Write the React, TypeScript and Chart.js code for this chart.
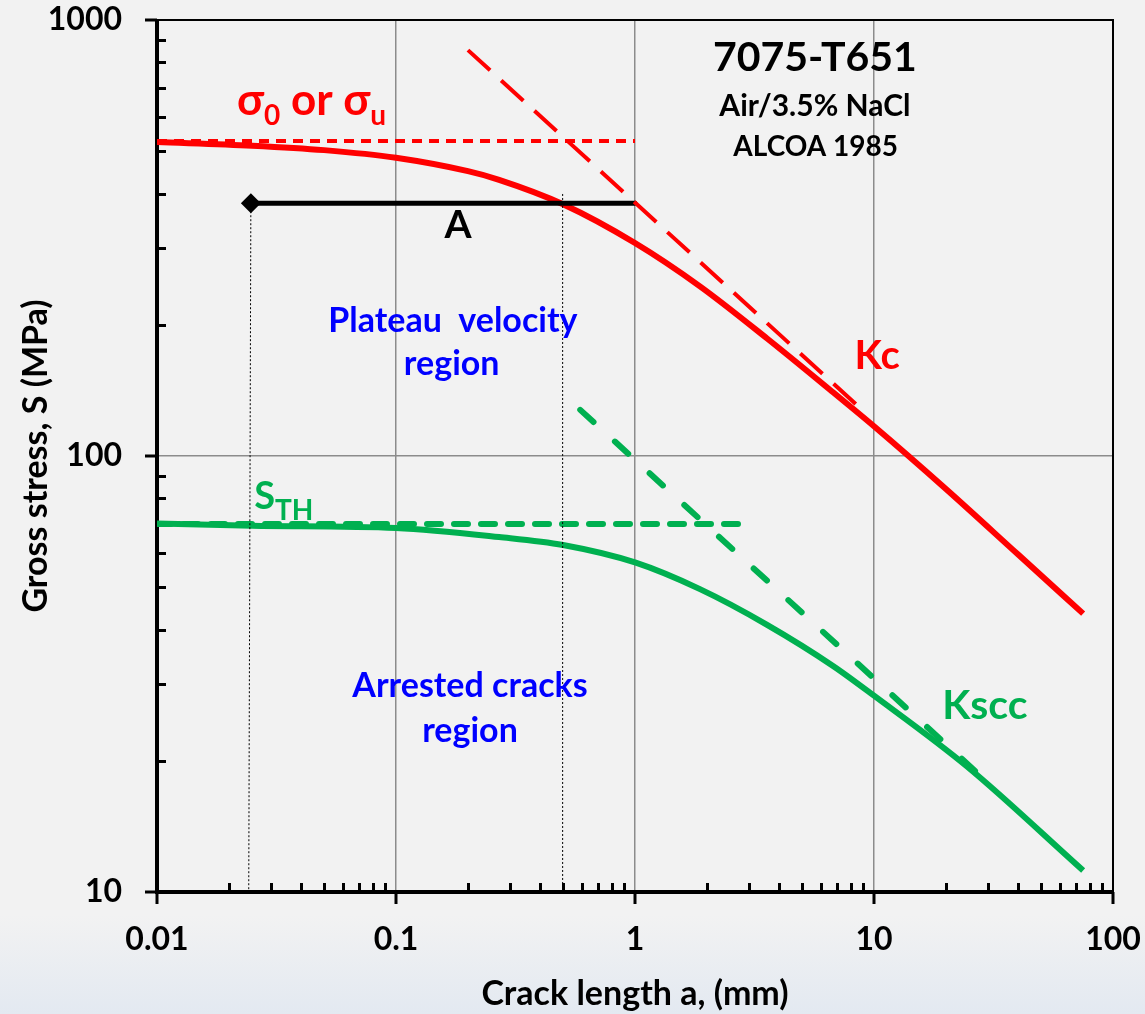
import React, { useEffect, useRef } from 'react';
import { Chart, registerables } from 'chart.js';

Chart.register(...registerables);

const FONT = "Lato, 'Open Sans', 'DejaVu Sans', sans-serif";
const RED = '#ff0000';
const GREEN = '#00b050';
const BLUE = '#0000ff';
const GRID = '#8c8c8c';

// Axis ticks
const X_MAJOR = [0.01, 0.1, 1, 10, 100];
const X_LABELS = ['0.01', '0.1', '1', '10', '100'];
const Y_MAJOR = [10, 100, 1000];
const Y_LABELS = ['10', '100', '1000'];
const X_GRID = [0.1, 1, 10];
const Y_GRID = [100];

// Kc curve (air), crack length a (mm) vs gross stress S (MPa)
const KC_CURVE_A = [0.01, 0.025, 0.05, 0.1, 0.2, 0.27, 0.5, 1, 1.87, 3.57, 6.74, 10, 20, 40, 75];
const KC_CURVE_S = [525, 515, 503, 483, 450, 430, 378, 308, 245, 186, 140, 117, 84, 59.5, 43.5];

// Kc asymptote (dashed)
const KC_LINE_A = [0.2, 9];
const KC_LINE_S = [853, 127];

// sigma_0 / sigma_u level (dotted)
const SIGMA_A = [0.01, 1];
const SIGMA_S = [528, 528];

// Line "A"
const A_LINE_A = [0.0247, 1];
const A_LINE_S = [380, 380];

// Vertical dotted guides
const VLINE1_A = [0.0247, 0.0242];
const VLINE1_S = [380, 10];
const VLINE2_A = [0.498, 0.498];
const VLINE2_S = [399, 10];

// Kscc curve (3.5% NaCl)
const KSCC_CURVE_A = [0.01, 0.025, 0.1, 0.27, 0.5, 1, 1.87, 3.57, 6.74, 10, 24.5, 75];
const KSCC_CURVE_S = [70, 69.2, 68.4, 65.2, 62.5, 57, 49.5, 41, 33, 28.2, 19.4, 11.2];

// Kscc asymptote (dashed)
const KSCC_LINE_A = [0.59, 27.8];
const KSCC_LINE_S = [127.6, 18.5];

// S_TH level (dashed)
const STH_A = [0.01, 3];
const STH_S = [69.8, 69.8];

// Text annotations (data coordinates: a at text centre, S at baseline)
const LABEL_TEXT = ['7075-T651', 'Air/3.5% NaCl', 'ALCOA 1985', 'A', 'Plateau  velocity', 'region', 'Kc', 'Arrested cracks', 'region', 'Kscc'];
const LABEL_A = [5.66, 5.66, 5.7, 0.1817, 0.173, 0.171, 10.3, 0.204, 0.204, 29.1];
const LABEL_S = [764, 602, 488, 316, 192.5, 153.4, 158, 28.0, 22.1, 24.9];
const LABEL_COLOR = ['#000', '#000', '#000', '#000', BLUE, BLUE, RED, BLUE, BLUE, GREEN];
const LABEL_SIZE = [41, 30, 28, 39, 34, 34, 40, 34, 34, 41];

const pts = (a: number[], s: number[]) => a.map((x, i) => ({ x, y: s[i] }));

const framePlugin = {
  id: 'frame',
  beforeDatasetsDraw(chart: any) {
    const { ctx, chartArea: ca, scales } = chart;
    const xs = scales.x;
    const ys = scales.y;
    ctx.save();
    ctx.strokeStyle = '#000';
    ctx.lineCap = 'butt';
    // top and right border
    ctx.lineWidth = 2;
    ctx.beginPath();
    ctx.moveTo(ca.left, ca.top);
    ctx.lineTo(ca.right, ca.top);
    ctx.lineTo(ca.right, ca.bottom);
    ctx.stroke();
    // minor ticks (inside)
    ctx.lineWidth = 3;
    ctx.beginPath();
    for (let d = 10; d < 1000; d *= 10) {
      for (let k = 2; k <= 9; k++) {
        const py = Math.round(ys.getPixelForValue(k * d)) + 0.5;
        ctx.moveTo(ca.left, py);
        ctx.lineTo(ca.left + 9, py);
      }
    }
    for (const d of [0.01, 0.1, 1, 10]) {
      for (let k = 2; k <= 9; k++) {
        const px = Math.round(xs.getPixelForValue(k * d)) + 0.5;
        ctx.moveTo(px, ca.bottom);
        ctx.lineTo(px, ca.bottom - 9);
      }
    }
    ctx.stroke();
    // major ticks (outside)
    ctx.beginPath();
    for (const v of Y_MAJOR) {
      const py = ys.getPixelForValue(v);
      ctx.moveTo(ca.left - 12, py);
      ctx.lineTo(ca.left, py);
    }
    for (const v of X_MAJOR) {
      const px = xs.getPixelForValue(v);
      ctx.moveTo(px, ca.bottom);
      ctx.lineTo(px, ca.bottom + 12);
    }
    ctx.stroke();
    // main axes
    ctx.lineWidth = 4;
    ctx.beginPath();
    ctx.moveTo(ca.left, ca.top - 1);
    ctx.lineTo(ca.left, ca.bottom + 2);
    ctx.moveTo(ca.left - 2, ca.bottom);
    ctx.lineTo(ca.right, ca.bottom);
    ctx.stroke();
    ctx.restore();
  },
  afterDatasetsDraw(chart: any) {
    const { ctx, scales } = chart;
    const xs = scales.x;
    const ys = scales.y;
    ctx.save();
    ctx.textAlign = 'center';
    ctx.textBaseline = 'alphabetic';
    LABEL_TEXT.forEach((t, i) => {
      ctx.font = `bold ${LABEL_SIZE[i]}px ${FONT}`;
      ctx.fillStyle = LABEL_COLOR[i];
      ctx.fillText(t, xs.getPixelForValue(LABEL_A[i]), ys.getPixelForValue(LABEL_S[i]));
    });
    // labels with subscripts
    const runsLabel = (a: number, s: number, color: string, runs: [string, number, number][]) => {
      let px = xs.getPixelForValue(a);
      const py = ys.getPixelForValue(s);
      ctx.textAlign = 'left';
      ctx.fillStyle = color;
      for (const [t, size, dy] of runs) {
        ctx.font = `bold ${size}px ${FONT}`;
        ctx.fillText(t, px, py + dy);
        px += ctx.measureText(t).width;
      }
    };
    runsLabel(0.0216, 605, RED, [['σ', 44, 0], ['0', 28, 10], [' or ', 44, 0], ['σ', 44, 0], ['u', 28, 10]]);
    runsLabel(0.0255, 75.6, GREEN, [['S', 38, 0], ['TH', 28, 11]]);
    ctx.restore();
  },
};

const zeroPad = (s: any) => {
  s.paddingLeft = 0;
  s.paddingRight = 0;
  s.paddingTop = 0;
  s.paddingBottom = 0;
};

export default function App() {
  const ref = useRef<HTMLCanvasElement | null>(null);

  useEffect(() => {
    if (!ref.current) return;
    const line = (data: any[], color: string, width: number, extra: any = {}) => ({
      data,
      showLine: true,
      borderColor: color,
      backgroundColor: color,
      borderWidth: width,
      pointRadius: 0,
      pointHoverRadius: 0,
      fill: false,
      ...extra,
    });
    const chart = new Chart(ref.current, {
      type: 'scatter',
      data: {
        datasets: [
          line(pts(KC_LINE_A, KC_LINE_S), RED, 4, { borderDash: [30, 15], order: 0 }),
          line(pts(A_LINE_A, A_LINE_S), '#000', 5, {
            order: 1,
            borderCapStyle: 'round',
            pointRadius: [10, 0],
            pointStyle: 'rectRot',
            pointBackgroundColor: '#000',
            pointBorderWidth: 0,
          }),
          line(pts(VLINE1_A, VLINE1_S), '#000', 1, { borderDash: [2, 2], order: 2 }),
          line(pts(VLINE2_A, VLINE2_S), '#000', 1, { borderDash: [2, 2], order: 2 }),
          line(pts(KC_CURVE_A, KC_CURVE_S), RED, 6, { cubicInterpolationMode: 'monotone', order: 3 }),
          line(pts(SIGMA_A, SIGMA_S), RED, 4, { borderDash: [10, 7], order: 4 }),
          line(pts(KSCC_LINE_A, KSCC_LINE_S), GREEN, 6, { borderDash: [18, 29], borderCapStyle: 'round', order: 5 }),
          line(pts(KSCC_CURVE_A, KSCC_CURVE_S), GREEN, 6, { cubicInterpolationMode: 'monotone', order: 6 }),
          line(pts(STH_A, STH_S), GREEN, 6, { borderDash: [14, 13], borderCapStyle: 'round', order: 7 }),
        ],
      },
      options: {
        responsive: false,
        maintainAspectRatio: false,
        animation: false,
        events: [],
        layout: { autoPadding: false, padding: { left: 0, right: 32, top: 20, bottom: 0 } },
        plugins: { legend: { display: false }, tooltip: { enabled: false } },
        scales: {
          x: {
            type: 'logarithmic',
            position: 'bottom',
            min: 0.01,
            max: 100,
            afterBuildTicks: (s: any) => {
              s.ticks = X_MAJOR.map((v) => ({ value: v }));
            },
            afterFit: (s: any) => {
              s.height = 122;
              zeroPad(s);
            },
            border: { display: false },
            grid: {
              drawTicks: false,
              lineWidth: 1.5,
              color: (c: any) => (c.tick && X_GRID.includes(c.tick.value) ? GRID : 'rgba(0,0,0,0)'),
            },
            ticks: {
              autoSkip: false,
              maxRotation: 0,
              minRotation: 0,
              padding: 28,
              color: '#000',
              font: { family: FONT, size: 32, weight: 'bold' },
              callback: (_v: any, i: number) => X_LABELS[i],
            },
            title: {
              display: true,
              text: 'Crack length a, (mm)',
              color: '#000',
              font: { family: FONT, size: 34, weight: 'bold' },
              padding: { top: 0, bottom: 0 },
            },
          },
          y: {
            type: 'logarithmic',
            position: 'left',
            min: 10,
            max: 1000,
            afterBuildTicks: (s: any) => {
              s.ticks = Y_MAJOR.map((v) => ({ value: v }));
            },
            afterFit: (s: any) => {
              s.width = 157;
              zeroPad(s);
            },
            border: { display: false },
            grid: {
              drawTicks: false,
              lineWidth: 1.5,
              color: (c: any) => (c.tick && Y_GRID.includes(c.tick.value) ? GRID : 'rgba(0,0,0,0)'),
            },
            ticks: {
              autoSkip: false,
              padding: 35,
              color: '#000',
              font: { family: FONT, size: 32, weight: 'bold' },
              callback: (_v: any, i: number) => Y_LABELS[i],
            },
            title: {
              display: true,
              text: 'Gross stress, S (MPa)',
              color: '#000',
              font: { family: FONT, size: 34, weight: 'bold' },
              padding: { top: 16, bottom: 0 },
            },
          },
        },
      } as any,
      plugins: [framePlugin],
    });
    return () => chart.destroy();
  }, []);

  return (
    <div
      style={{
        position: 'absolute',
        left: 0,
        top: 0,
        width: 1145,
        height: 1014,
        background: 'linear-gradient(to bottom, #f2f2f2 0px, #f2f2f2 915px, #e3e9f1 1014px)',
      }}
    >
      <canvas ref={ref} width={1145} height={1014} style={{ display: 'block', width: 1145, height: 1014 }} />
    </div>
  );
}
